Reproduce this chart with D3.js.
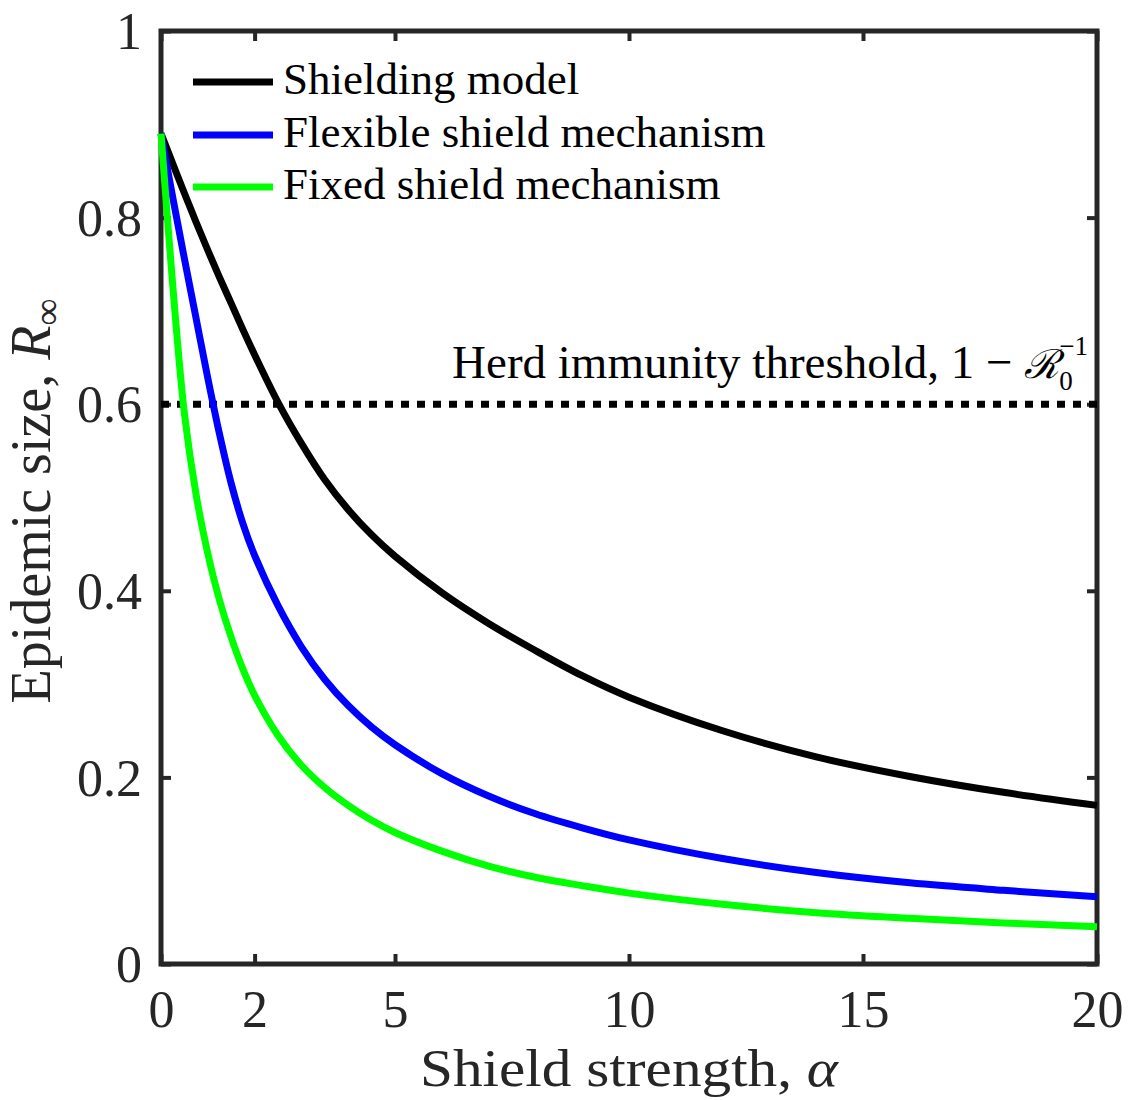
<!DOCTYPE html>
<html>
<head>
<meta charset="utf-8">
<script src="https://cdn.jsdelivr.net/npm/d3@7"></script>
<style>
  html, body { margin: 0; padding: 0; background: #fff; }
  svg { display: block; }
</style>
</head>
<body>
<svg id="chart" width="1129" height="1100"></svg>
<script>
// ---- data ----
const alpha = [0, 0.25, 0.5, 0.75, 1, 1.25, 1.5, 1.75, 2, 2.5, 3, 3.5, 4, 4.5, 5, 6, 7, 8, 9, 10, 12, 14, 16, 18, 20];
const shieldingModel = [0.890, 0.858, 0.826, 0.795, 0.765, 0.736, 0.708, 0.680, 0.653, 0.602, 0.558, 0.519, 0.487, 0.460, 0.437, 0.398, 0.365, 0.336, 0.309, 0.286, 0.250, 0.222, 0.201, 0.184, 0.170];
const flexibleShield = [0.890, 0.822, 0.756, 0.692, 0.628, 0.568, 0.515, 0.472, 0.438, 0.384, 0.340, 0.305, 0.277, 0.254, 0.235, 0.204, 0.180, 0.161, 0.146, 0.133, 0.113, 0.098, 0.087, 0.079, 0.072];
const fixedShield    = [0.890, 0.728, 0.590, 0.503, 0.440, 0.390, 0.350, 0.316, 0.288, 0.245, 0.213, 0.189, 0.170, 0.154, 0.141, 0.121, 0.105, 0.093, 0.084, 0.076, 0.064, 0.055, 0.049, 0.044, 0.040];
const seriesNames = ["Shielding model", "Flexible shield mechanism", "Fixed shield mechanism"];
const seriesColors = ["#000000", "#0000ff", "#00ff00"];
const herdThreshold = 0.6;
const xTicks = [0, 2, 5, 10, 15, 20];
const yTicks = [0, 0.2, 0.4, 0.6, 0.8, 1];
const yTickLabels = ["0", "0.2", "0.4", "0.6", "0.8", "1"];

// ---- layout ----
const svg = d3.select("#chart");
const L = 161, R = 1097, T = 31, B = 964;
const axisColor = "#262626";
const fontFam = "'Liberation Serif', 'Times New Roman', serif";

const x = d3.scaleLinear().domain([0, 20]).range([L, R]);
const y = d3.scaleLinear().domain([0, 1]).range([B, T]);

// axes (ticks pointing inward, mirrored on top and right)
const tickLen = 10;
const gBottom = svg.append("g").attr("transform", `translate(0,${B})`)
  .call(d3.axisBottom(x).tickValues(xTicks).tickSizeInner(-tickLen).tickSizeOuter(0).tickFormat(d3.format("d")));
const gTop = svg.append("g").attr("transform", `translate(0,${T})`)
  .call(d3.axisTop(x).tickValues(xTicks).tickSizeInner(-tickLen).tickSizeOuter(0).tickFormat(""));
const gLeft = svg.append("g").attr("transform", `translate(${L},0)`)
  .call(d3.axisLeft(y).tickValues(yTicks).tickSizeInner(-tickLen).tickSizeOuter(0).tickFormat((d, i) => yTickLabels[i]));
const gRight = svg.append("g").attr("transform", `translate(${R},0)`)
  .call(d3.axisRight(y).tickValues(yTicks).tickSizeInner(-tickLen).tickSizeOuter(0).tickFormat(""));

[gBottom, gTop, gLeft, gRight].forEach(g => {
  g.select(".domain").remove();
  g.selectAll(".tick line").attr("stroke", axisColor).attr("stroke-width", 4);
});
gBottom.selectAll(".tick text")
  .attr("fill", axisColor).attr("font-family", fontFam).attr("font-size", 52)
  .attr("y", 63).attr("dy", 0);
gLeft.selectAll(".tick text")
  .attr("fill", axisColor).attr("font-family", fontFam).attr("font-size", 52)
  .attr("x", -19).attr("dy", "0.34em");

// box
svg.append("rect")
  .attr("x", L).attr("y", T).attr("width", R - L).attr("height", B - T)
  .attr("fill", "none").attr("stroke", axisColor).attr("stroke-width", 5);

// herd immunity threshold line
const line = d3.line().x(d => x(d[0])).y(d => y(d[1]));
svg.append("path")
  .attr("d", line([[0, herdThreshold], [20, herdThreshold]]))
  .attr("fill", "none").attr("stroke", "#000").attr("stroke-width", 7)
  .attr("stroke-dasharray", "8,8");

// curves
const curveLine = d3.line().x(d => x(d[0])).y(d => y(d[1])).curve(d3.curveCatmullRom.alpha(0.5));
const allSeries = [shieldingModel, flexibleShield, fixedShield];
allSeries.forEach((vals, i) => {
  svg.append("path")
    .attr("d", curveLine(alpha.map((a, j) => [a, vals[j]])))
    .attr("fill", "none").attr("stroke", seriesColors[i]).attr("stroke-width", 7)
    .attr("stroke-linejoin", "round");
});

// legend
const legY = [82, 135, 187];
seriesNames.forEach((name, i) => {
  svg.append("line").attr("x1", 193).attr("x2", 273).attr("y1", legY[i]).attr("y2", legY[i])
    .attr("stroke", seriesColors[i]).attr("stroke-width", 7);
  svg.append("text").attr("x", 283).attr("y", legY[i] + 12)
    .attr("font-family", fontFam).attr("font-size", 45).attr("fill", "#000")
    .text(name);
});

// herd immunity label
const herd = svg.append("text").attr("x", 1088).attr("y", 378)
  .attr("text-anchor", "end").attr("font-family", fontFam).attr("font-size", 47).attr("fill", "#000");
herd.append("tspan").text("Herd immunity threshold, 1 \u2212 ");
herd.append("tspan").attr("font-style", "italic").attr("font-family", "'DejaVu Serif', serif").attr("font-size", 40).text("\u211B");
herd.append("tspan").attr("font-size", 27).attr("dy", 12).text("0");
herd.append("tspan").attr("font-size", 27).attr("dx", -13.5).attr("dy", -35).text("\u22121");

// axis labels
const xl = svg.append("text").attr("x", 629).attr("y", 1086).attr("text-anchor", "middle")
  .attr("font-family", fontFam).attr("font-size", 52).attr("fill", axisColor)
  .attr("textLength", 418).attr("lengthAdjust", "spacingAndGlyphs");
xl.append("tspan").text("Shield strength, ");
xl.append("tspan").attr("font-style", "italic").text("\u03B1");

const yl = svg.append("text").attr("transform", "translate(50,501) rotate(-90)").attr("text-anchor", "middle")
  .attr("font-family", fontFam).attr("font-size", 56).attr("fill", axisColor);
yl.append("tspan").text("Epidemic size, ");
yl.append("tspan").attr("font-style", "italic").text("R");
yl.append("tspan").attr("font-size", 38).attr("dy", 10).text("\u221E");
</script>
</body>
</html>
